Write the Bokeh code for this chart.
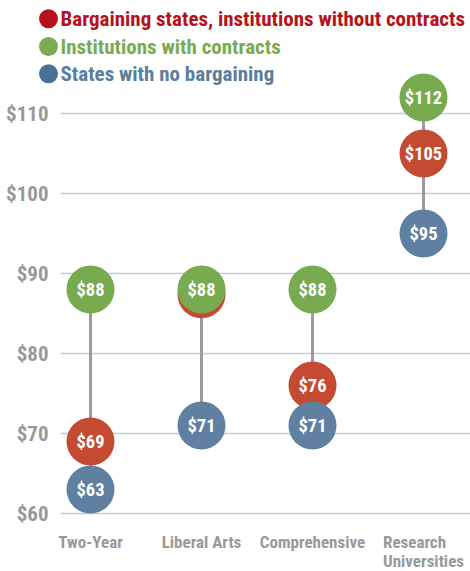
from bokeh.plotting import figure
from bokeh.models import (Range1d, FixedTicker, Label, LabelSet, BoxAnnotation,
                          ColumnDataSource)
from bokeh.core.properties import value
from bokeh.embed import file_html
from bokeh.resources import INLINE

# ---------------- data ----------------
categories = ["Two-Year", "Liberal Arts", "Comprehensive", "Research\nUniversities"]
series_names = [
    "Bargaining states, institutions without contracts",
    "Institutions with contracts",
    "States with no bargaining",
]
bargaining_no_contracts = [69, 87.4, 76, 105]
with_contracts = [88, 88, 88, 112]
no_bargaining = [63, 71, 71, 95]
y_ticks = [60, 70, 80, 90, 100, 110]
y_tick_labels = ["$60", "$70", "$80", "$90", "$100", "$110"]

# ---------------- styles / layout ----------------
FONT = "Roboto Condensed"
W, H = 470, 571
RED, GREEN, BLUE = "#c44a32", "#78aa50", "#5f80a0"
KEY_COLORS = ["#b5121b", "#7aab50", "#4a7096"]
TXT_COLORS = ["#b5121b", "#7aab50", "#5a7e9e"]
GRID = "#bfcddb"
STEM = "#9a9a9a"
AXIS_TXT = "#999999"
KEY_X = [48, 48, 48]                  # legend key centres, px from frame left
KEY_Y = [552.7, 525, 497.7]           # px from frame bottom
LEGEND_TEXT_X = 60
PLOT_LEFT = 60                        # px where the grid starts
YLABEL_RIGHT = 48
XLABEL_TOP = 40                       # px from frame bottom

xs = list(range(len(categories)))

p = figure(width=W, height=H, output_backend="svg", toolbar_location=None,
           x_range=Range1d(-0.8108, 3.4234), y_range=Range1d(52.75, 124.125),
           x_axis_location=None, y_axis_location=None, min_border=0)
p.outline_line_color = None
p.background_fill_color = "white"
p.border_fill_color = "white"
p.extra_x_ranges = {"px": Range1d(0, W)}
p.extra_y_ranges = {"px": Range1d(0, H)}

# grid (only right of the tick labels)
p.xgrid.visible = False
p.ygrid.ticker = FixedTicker(ticks=y_ticks)
p.ygrid.grid_line_color = GRID
p.ygrid.grid_line_width = 1.6
p.add_layout(BoxAnnotation(left=0, right=PLOT_LEFT, left_units="screen", right_units="screen",
                           fill_color="white", fill_alpha=1, line_color=None, level="underlay"))

# y tick labels
p.add_layout(LabelSet(source=ColumnDataSource(dict(y=y_ticks, text=y_tick_labels)),
                      x=YLABEL_RIGHT, x_units="screen", y="y", text="text",
                      text_align="right", text_baseline="middle",
                      text_font=value(FONT), text_font_style="bold",
                      text_font_size="21px", text_color=AXIS_TXT))
# category labels
p.add_layout(LabelSet(source=ColumnDataSource(dict(x=xs, text=categories)),
                      x="x", y=XLABEL_TOP, y_units="screen", text="text",
                      text_align="center", text_baseline="top", text_line_height=0.97,
                      text_font=value(FONT), text_font_style="bold",
                      text_font_size="17px", text_color=AXIS_TXT))

# stems from min to max in each category
lows = [min(a, b, c) for a, b, c in zip(bargaining_no_contracts, with_contracts, no_bargaining)]
highs = [max(a, b, c) for a, b, c in zip(bargaining_no_contracts, with_contracts, no_bargaining)]
p.segment(x0=xs, y0=lows, x1=xs, y1=highs, line_color=STEM, line_width=3)

def dots(vals, color):
    p.scatter(x=xs, y=vals, size=48, fill_color=color, line_color=None)
    p.text(x=xs, y=vals, text=[f"${v:.0f}" for v in vals], text_color="white",
           text_font=value(FONT), text_font_style="bold", text_font_size="18.5px",
           text_align="center", text_baseline="middle")

dots(bargaining_no_contracts, RED)
dots(no_bargaining, BLUE)
dots(with_contracts, GREEN)

# legend
p.scatter(x=KEY_X, y=KEY_Y, x_range_name="px", y_range_name="px", size=19,
          fill_color=KEY_COLORS, line_color=None)
for name, tc, ky in zip(series_names, TXT_COLORS, KEY_Y):
    p.add_layout(Label(x=LEGEND_TEXT_X, y=ky, x_units="screen", y_units="screen", text=name,
                       text_color=tc, text_font=FONT, text_font_style="bold",
                       text_font_size="21px", text_baseline="middle", text_align="left"))

open("out.html", "w").write(file_html(p, INLINE))
